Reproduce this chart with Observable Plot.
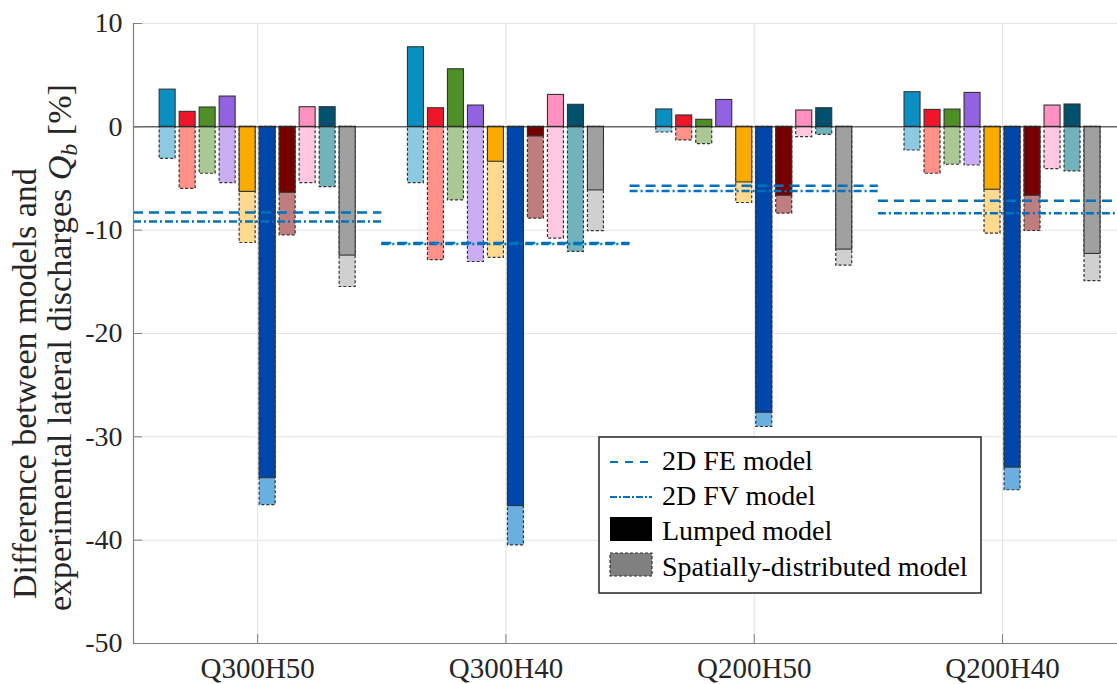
<!DOCTYPE html>
<html><head><meta charset="utf-8">
<script src="https://cdn.jsdelivr.net/npm/d3@7"></script>
<script src="https://cdn.jsdelivr.net/npm/@observablehq/plot@0.6"></script>
<style>body{margin:0;background:#fff}#chart{width:1117px;height:684px}</style>
</head><body><div id="chart"></div>
<script>
// ---- data ----
const groups = ["Q300H50", "Q300H40", "Q200H50", "Q200H40"];
const models = ["M1", "M2", "M3", "M4", "M5", "M6", "M7", "M8", "M9", "M10"];
const lumpedQ300H50  = [3.6, 1.45, 1.87, 2.93, -6.3, -34.0, -6.38, 1.9, 1.9, -12.46];
const spatialQ300H50 = [-3.1, -6.0, -4.54, -5.44, -11.24, -36.6, -10.5, -5.44, -5.83, -15.5];
const lumpedQ300H40  = [7.7, 1.8, 5.57, 2.06, -3.38, -36.7, -0.93, 3.09, 2.13, -6.15];
const spatialQ300H40 = [-5.44, -12.9, -7.12, -13.08, -12.69, -40.5, -8.89, -10.82, -12.1, -10.1];
const lumpedQ200H50  = [1.68, 1.1, 0.68, 2.6, -5.38, -27.67, -6.67, 1.58, 1.8, -11.88];
const spatialQ200H50 = [-0.55, -1.32, -1.67, 0, -7.37, -29.05, -8.4, -1.0, -0.77, -13.43];
const lumpedQ200H40  = [3.35, 1.64, 1.67, 3.28, -6.09, -32.98, -6.67, 2.06, 2.16, -12.3];
const spatialQ200H40 = [-2.29, -4.54, -3.67, -3.74, -10.34, -35.17, -10.08, -4.09, -4.31, -14.94];
const fe2D = [-8.28, -11.25, -5.7, -7.15];
const fv2D = [-9.15, -11.33, -6.2, -8.37];
const yTicks = [-50, -40, -30, -20, -10, 0, 10];
const lumpedColors  = ["#0a8fc2", "#f0162a", "#4e8f26", "#9362e3", "#fbaa00", "#0047ab", "#760000", "#ff90bf", "#00506e", "#a0a0a0"];
const spatialColors = ["#8ec9e3", "#ff9188", "#a9c893", "#c9aef3", "#ffd98f", "#6aafe0", "#c07d7d", "#ffc7e0", "#70b3bb", "#d0d0d0"];

// ---- table built from the arrays ----
const lumpedAll = [lumpedQ300H50, lumpedQ300H40, lumpedQ200H50, lumpedQ200H40];
const spatialAll = [spatialQ300H50, spatialQ300H40, spatialQ200H50, spatialQ200H40];
const rows = [];
groups.forEach((g, gi) => models.forEach((m, mi) => rows.push({
  group: g, gi: gi + 1, model: m, mi, lumped: lumpedAll[gi][mi], spatial: spatialAll[gi][mi]
})));
const refs = groups.map((g, k) => ({group: g, gi: k + 1, fe: fe2D[k], fv: fv2D[k]}));

const W = 1117, H = 684, mL = 133, mT = 23, mB = 41;
const xDomain = [0.5, 4.463];
const pxPerUnit = (W - mL) / (xDomain[1] - xDomain[0]);
const step = 20 / pxPerUnit, half = 8 / pxPerUnit;
const cx = d => d.gi + (d.mi - 4.5) * step;
const font = "'Liberation Serif', 'Times New Roman', serif";

const chart = Plot.plot({
  width: W, height: H,
  marginLeft: mL, marginRight: 0, marginTop: mT, marginBottom: mB,
  style: {fontFamily: font, background: "#fff", overflow: "visible"},
  x: {domain: xDomain, axis: null},
  y: {domain: [-50, 10], axis: null},
  color: {type: "identity"},
  marks: [
    Plot.gridY(yTicks, {stroke: "#e3e3e3", strokeOpacity: 1}),
    Plot.gridX([1, 2, 3, 4], {stroke: "#e3e3e3", strokeOpacity: 1}),
    Plot.rect(rows, {x1: d => cx(d) - half, x2: d => cx(d) + half, y1: 0, y2: "spatial",
      fill: d => spatialColors[d.mi], stroke: "#333", strokeWidth: 1.2, strokeDasharray: "3,2"}),
    Plot.rect(rows, {x1: d => cx(d) - half, x2: d => cx(d) + half, y1: 0, y2: "lumped",
      fill: d => lumpedColors[d.mi], stroke: "#333", strokeWidth: 1.1}),
    Plot.ruleY([0], {stroke: "#262626", strokeWidth: 1}),
    Plot.ruleY(refs, {x1: d => d.gi - 0.5, x2: d => d.gi + 0.5, y: "fe", stroke: "#0072bd", strokeWidth: 2.5, strokeDasharray: "10,6"}),
    Plot.ruleY(refs, {x1: d => d.gi - 0.5, x2: d => d.gi + 0.5, y: "fv", stroke: "#0072bd", strokeWidth: 2.5, strokeDasharray: "8,3,2,3"}),
    // axis lines and inward ticks
    Plot.ruleX([xDomain[0]], {stroke: "#808080", strokeWidth: 1.2}),
    Plot.ruleY([-50], {stroke: "#808080", strokeWidth: 1.2}),
    Plot.ruleY(yTicks, {x1: xDomain[0], x2: xDomain[0] + 9 / pxPerUnit, stroke: "#808080"}),
    Plot.ruleX([1, 2, 3, 4], {y1: -50, y2: -50 + 9 * 60 / (H - mT - mB), stroke: "#808080"}),
    Plot.axisY(yTicks, {tickSize: 0, tickPadding: 11, fontSize: 28, tickFormat: d => String(d), label: null, fill: "#262626"}),
    Plot.axisX([1, 2, 3, 4], {tickSize: 0, tickPadding: 14, fontSize: 29, tickFormat: d => groups[d - 1], label: null, fill: "#262626"})
  ]
});
document.getElementById("chart").appendChild(chart);

const svg = d3.select(chart);
// y axis title (two lines)
const t1 = svg.append("text").attr("transform", "translate(36,599) rotate(-90)")
  .attr("text-anchor", "start").attr("font-family", font).attr("font-size", 34).attr("fill", "#262626")
  .text("Difference between models and");
const t2 = svg.append("text").attr("transform", "translate(71,611) rotate(-90)")
  .attr("text-anchor", "start").attr("font-family", font).attr("font-size", 34).attr("fill", "#262626");
t2.append("tspan").text("experimental lateral discharges ");
t2.append("tspan").attr("font-style", "italic").text("Q");
t2.append("tspan").attr("font-style", "italic").attr("font-size", 24).attr("dy", 6).text("b");
t2.append("tspan").attr("dy", -6).text(" [%]");

// legend
const lg = svg.append("g").attr("font-family", font).attr("font-size", 28).attr("fill", "#000").attr("text-anchor", "start");
lg.append("rect").attr("x", 599).attr("y", 437).attr("width", 382).attr("height", 156)
  .attr("fill", "#fff").attr("stroke", "#262626").attr("stroke-width", 1.5);
lg.append("line").attr("x1", 610).attr("x2", 652).attr("y1", 462).attr("y2", 462)
  .attr("stroke", "#0072bd").attr("stroke-width", 2).attr("stroke-dasharray", "8,7");
lg.append("line").attr("x1", 610).attr("x2", 652).attr("y1", 497).attr("y2", 497)
  .attr("stroke", "#0072bd").attr("stroke-width", 2).attr("stroke-dasharray", "7,2,2,2");
lg.append("rect").attr("x", 610).attr("y", 517).attr("width", 42).attr("height", 24).attr("fill", "#000");
lg.append("rect").attr("x", 610).attr("y", 553).attr("width", 42).attr("height", 23)
  .attr("fill", "#808080").attr("stroke", "#333").attr("stroke-width", 1.2).attr("stroke-dasharray", "3,2");
const labels = [["2D FE model", 470], ["2D FV model", 505], ["Lumped model", 540], ["Spatially-distributed model", 576]];
labels.forEach(([s, y]) => lg.append("text").attr("x", 662).attr("y", y).text(s));
</script></body></html>
